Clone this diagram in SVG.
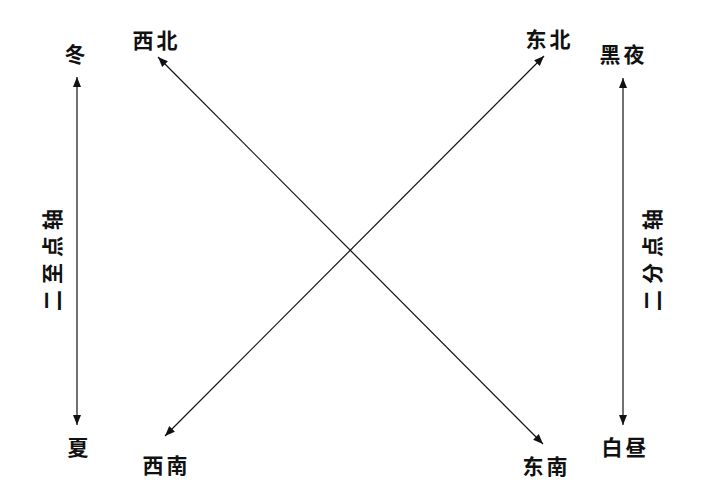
<svg xmlns="http://www.w3.org/2000/svg" width="713" height="490" viewBox="0 0 713 490">
<style>
text{font-family:"Noto Sans CJK SC","Noto Sans CJK JP",sans-serif;font-size:21px;font-weight:bold;fill:#111;text-anchor:middle;dominant-baseline:central}
.h2{letter-spacing:3px}
.ax{letter-spacing:6px}
line{stroke:#111;stroke-width:1.2}
</style>
<defs>
<marker id="ah" viewBox="0 0 10 10" refX="10" refY="5" markerWidth="10" markerHeight="10" markerUnits="userSpaceOnUse" orient="auto-start-reverse">
<path d="M0,1 L10,5 L0,9 Z" fill="#111"/>
</marker>
</defs>
<rect width="713" height="490" fill="#fff"/>
<g id="connectors">
<line x1="77" y1="77" x2="77" y2="425" marker-start="url(#ah)" marker-end="url(#ah)"/>
<line x1="623" y1="78" x2="623" y2="425" marker-start="url(#ah)" marker-end="url(#ah)"/>
<line x1="158" y1="57" x2="543" y2="444" marker-start="url(#ah)" marker-end="url(#ah)"/>
<line x1="544" y1="56" x2="165" y2="436" marker-start="url(#ah)" marker-end="url(#ah)"/>
</g>
<g id="winter"><text x="75" y="53">冬</text></g>
<g id="summer"><text x="78" y="446">夏</text></g>
<g id="northwest"><text class="h2" x="156.5" y="39">西北</text></g>
<g id="southwest"><text class="h2" x="166.5" y="464">西南</text></g>
<g id="northeast"><text class="h2" x="549.5" y="38">东北</text></g>
<g id="southeast"><text class="h2" x="546.5" y="465">东南</text></g>
<g id="night"><text class="h2" x="623.5" y="53">黑夜</text></g>
<g id="day"><text class="h2" x="625.5" y="446">白昼</text></g>
<g id="solstice-axis"><text class="ax" transform="translate(51,257) rotate(-90)">二至点轴</text></g>
<g id="equinox-axis"><text class="ax" transform="translate(651,257) rotate(-90)">二分点轴</text></g>
</svg>
